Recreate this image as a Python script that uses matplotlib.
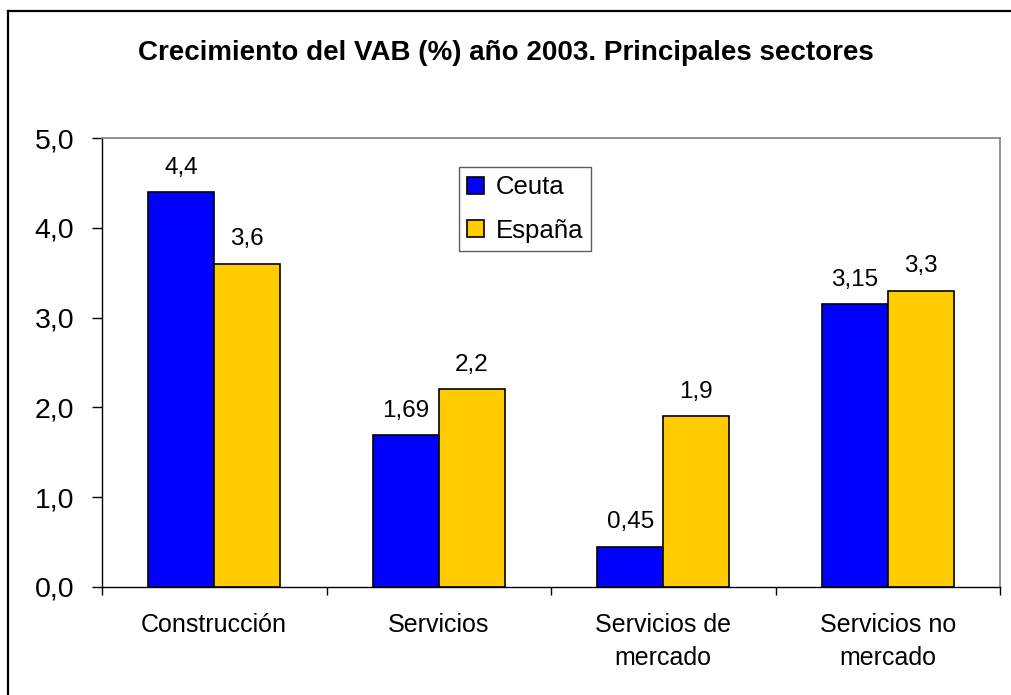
import matplotlib
matplotlib.use('Agg')
import matplotlib.pyplot as plt
from matplotlib.lines import Line2D
import numpy as np

plt.rcParams['font.family'] = ['Liberation Sans', 'DejaVu Sans']

# ── Data ──────────────────────────────────────────────
categories = ['Construcción', 'Servicios', 'Servicios de\nmercado', 'Servicios no\nmercado']
ceuta      = [4.4, 1.69, 0.45, 3.15]
espana     = [3.6, 2.2, 1.9, 3.3]
series_names = ['Ceuta', 'España']

BLUE = '#0000FF'
GOLD = '#FFCC00'

W, H = 1011, 695
fig = plt.figure(figsize=(W / 100, H / 100), dpi=100)
fig.patch.set_facecolor('white')

# plot area in pixels: x 102..1000, y 138..587
ax = fig.add_axes([102 / W, 1 - 587 / H, (1000 - 102) / W, (587 - 138) / H])

x = np.arange(len(categories))
bw = 0.295
b1 = ax.bar(x - bw / 2, ceuta, bw, color=BLUE, edgecolor='black', linewidth=1.2, label=series_names[0])
b2 = ax.bar(x + bw / 2, espana, bw, color=GOLD, edgecolor='black', linewidth=1.2, label=series_names[1])

for bars, vals in [(b1, ceuta), (b2, espana)]:
    for bar, v in zip(bars, vals):
        ax.annotate(str(v).replace('.', ','),
                    (bar.get_x() + bar.get_width() / 2, v),
                    xytext=(0, 17.5), textcoords='offset points',
                    ha='center', va='center', fontsize=17.5)

ax.set_xlim(-0.5, len(categories) - 0.5)
ax.set_ylim(0, 5)

ax.set_yticks(np.arange(0, 5.1, 1))
ax.set_yticklabels([f'{v:.1f}'.replace('.', ',') for v in np.arange(0, 5.1, 1)], fontsize=20.5)
ax.tick_params(axis='y', direction='out', length=7, width=1, pad=13)

ax.set_xticks(x)
ax.set_xticklabels(categories, fontsize=18, linespacing=1.45)
ax.tick_params(axis='x', which='major', length=0, pad=19)
ax.set_xticks(np.arange(-0.5, len(categories), 1), minor=True)
ax.tick_params(axis='x', which='minor', direction='out', length=6, width=1)

for s in ['left', 'bottom']:
    ax.spines[s].set_color('black')
    ax.spines[s].set_linewidth(1)
for s in ['top', 'right']:
    ax.spines[s].set_color('#808080')
    ax.spines[s].set_linewidth(1.2)

leg = ax.legend(loc='upper left', bbox_to_anchor=(0.3976, 0.935),
                borderaxespad=0, fontsize=18.5, frameon=True, fancybox=False,
                handlelength=0.65, handleheight=0.65, handletextpad=0.45,
                labelspacing=0.75, borderpad=0.32)
leg.get_frame().set_edgecolor('#333333')
leg.get_frame().set_linewidth(1)

fig.text(0.5, 1 - 53 / H, 'Crecimiento del VAB (%) año 2003. Principales sectores',
         ha='center', va='center', fontsize=20, fontweight='bold')

# outer chart border (only top and left visible)
fig.add_artist(Line2D([8 / W, 8 / W], [0, 1 - 11 / H], transform=fig.transFigure, color='black', lw=1.6))
fig.add_artist(Line2D([8 / W, 1], [1 - 11 / H, 1 - 11 / H], transform=fig.transFigure, color='black', lw=1.6))

fig.savefig('out.png', dpi=100, facecolor='white')
